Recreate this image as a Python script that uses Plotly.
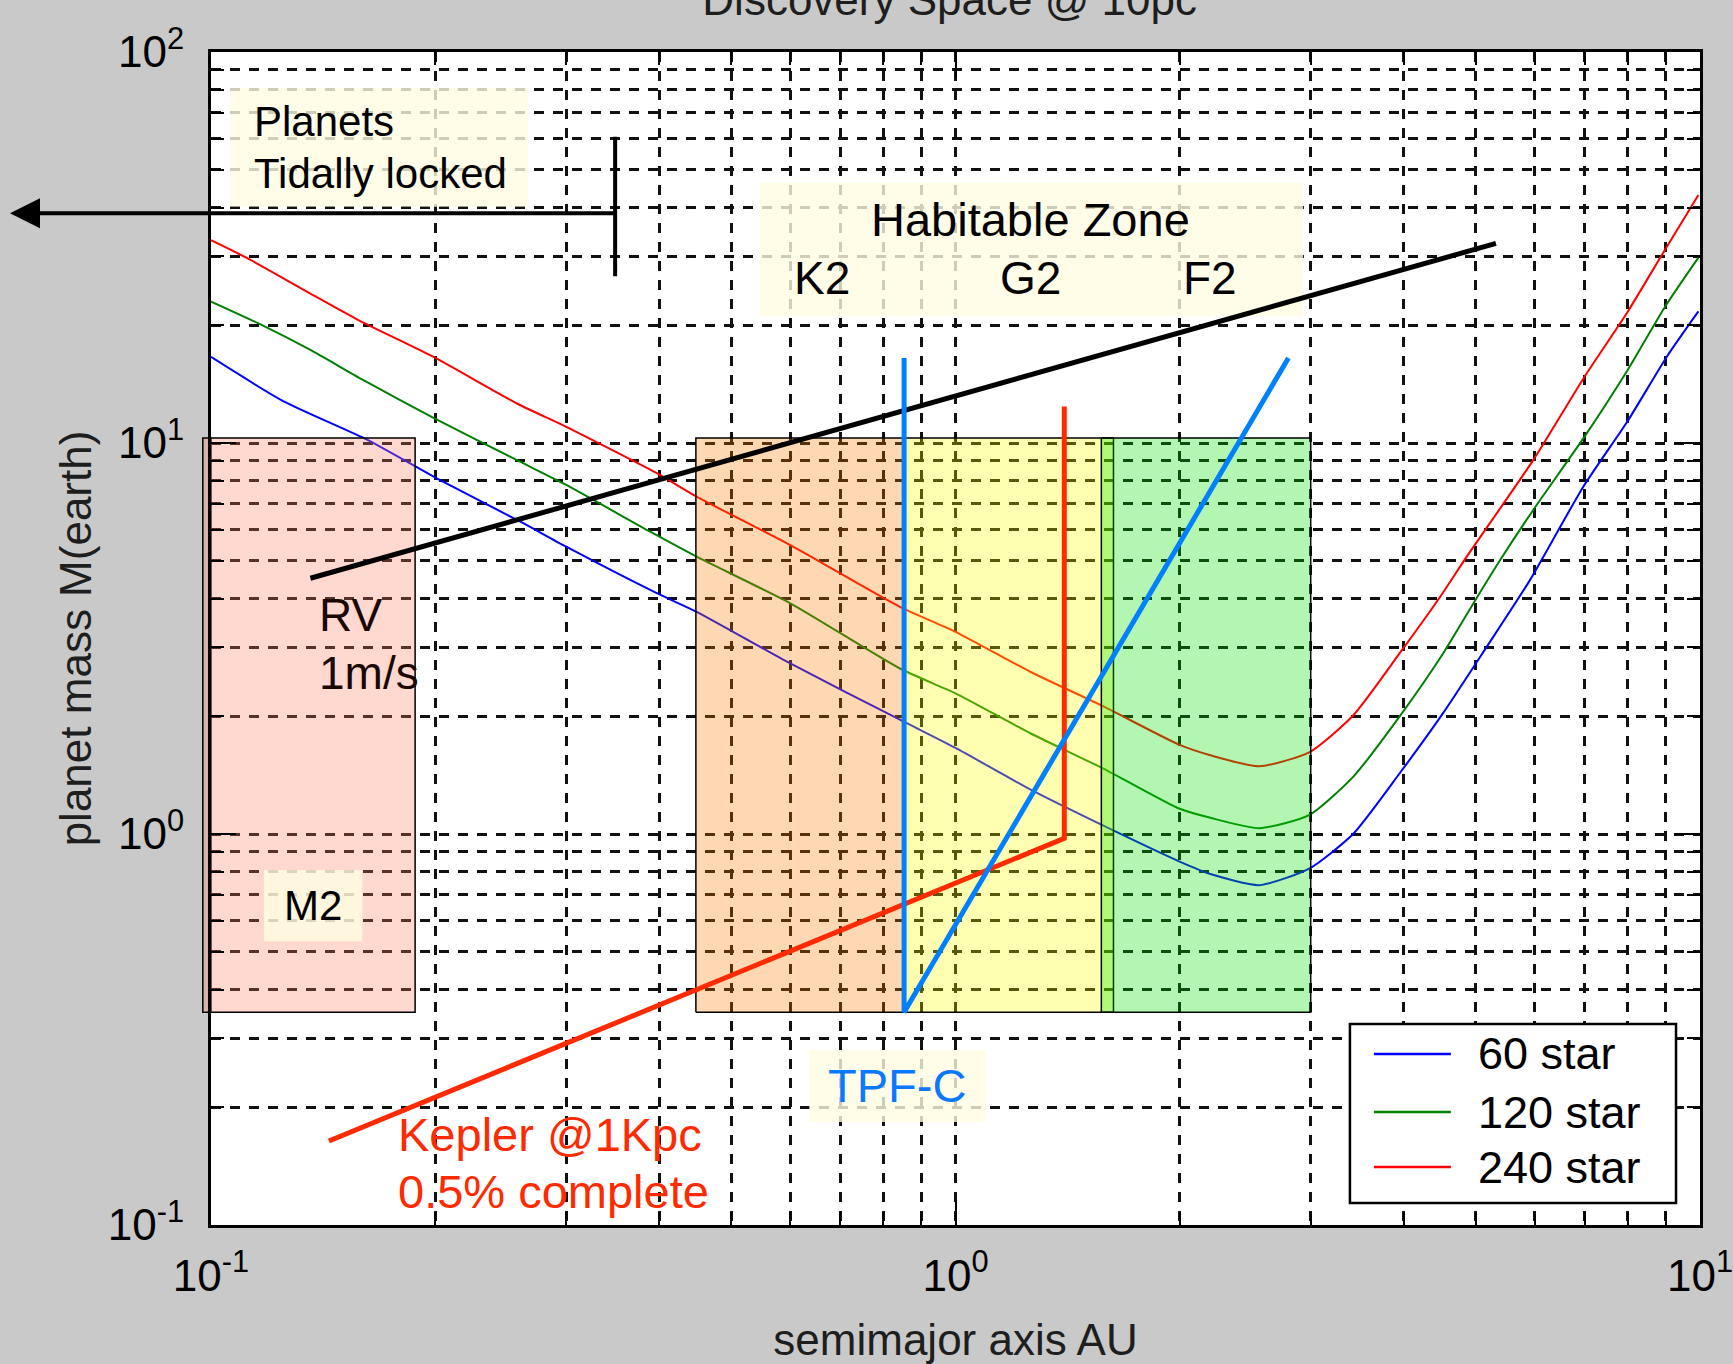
import numpy as np
import plotly.graph_objects as go

# ---------------- data ----------------
# detection-limit curves: semimajor axis (AU) vs planet mass (M_earth)
a_60 = [0.100, 0.125, 0.162, 0.201, 0.260, 0.300, 0.397, 0.449, 0.600, 0.842, 1.00, 1.26, 1.58,
        2.00, 2.20, 2.56, 2.99, 3.42, 3.95, 4.52, 5.17, 5.91, 6.97, 8.00, 9.02, 9.95]
m_60 = [16.6, 12.8, 10.2, 8.12, 6.3, 5.43, 4.13, 3.7, 2.73, 1.96, 1.66, 1.30, 1.05,
        0.85, 0.79, 0.74, 0.817, 1.0, 1.43, 2.04, 3.01, 4.46, 7.73, 11.4, 16.6, 21.7]

a_120 = [0.100, 0.116, 0.136, 0.160, 0.199, 0.260, 0.300, 0.389, 0.449, 0.600, 0.842, 1.00, 1.26,
         1.58, 2.00, 2.20, 2.56, 2.99, 3.42, 3.95, 4.52, 5.01, 5.39, 5.97, 7.00, 8.00, 9.00, 9.95]
m_120 = [23.0, 20.2, 17.3, 14.5, 11.6, 8.96, 7.81, 5.93, 5.12, 3.89, 2.65, 2.29, 1.81,
         1.47, 1.16, 1.10, 1.035, 1.12, 1.40, 2.0, 2.90, 4.01, 5.02, 6.74, 10.4, 15.4, 22.5, 29.8]

a_240 = [0.100, 0.113, 0.136, 0.158, 0.199, 0.258, 0.300, 0.397, 0.449, 0.600, 0.842, 1.00, 1.26,
         1.58, 2.00, 2.20, 2.56, 2.99, 3.42, 3.95, 4.48, 4.86, 5.97, 7.00, 8.00, 9.00, 9.95]
m_240 = [33.0, 29.4, 24.1, 20.6, 16.6, 12.6, 11.0, 8.37, 7.29, 5.48, 3.81, 3.29, 2.60,
         2.12, 1.69, 1.59, 1.49, 1.62, 2.01, 2.9, 4.05, 5.12, 9.04, 14.8, 21.7, 31.5, 43.1]

series_names = ["60 star", "120 star", "240 star"]

# stellar-type zones (semimajor axis ranges) and mass range
zone_names = ["M2", "K2", "G2", "F2"]
zone_a_min = [0.0975, 0.448, 0.855, 1.57]
zone_a_max = [0.188, 0.855, 1.63, 3.00]
zone_m_min = 0.35
zone_m_max = 10.3

# RV 1 m/s sensitivity line
rv_a = [0.136, 5.32]
rv_m = [4.51, 32.4]

# Kepler @1Kpc line
kepler_a = [0.144, 1.40, 1.40]
kepler_m = [0.164, 0.975, 12.4]

# TPF-C wedge
tpfc_a = [0.853, 0.853, 2.80]
tpfc_m = [16.5, 0.35, 16.5]

# tidal-locking limit
tidal_a = 0.349
tidal_m = [26.7, 60.7]
tidal_arrow_m = 38.7
tidal_arrow_tip_a = 0.0537

# label background boxes: (a_min, a_max, m_min, m_max)
label_boxes = {
    "planets": (0.106, 0.267, 40.2, 80.9),
    "hz": (0.546, 2.93, 21.1, 46.2),
    "m2": (0.1178, 0.1596, 0.532, 0.809),
    "tpfc": (0.636, 1.099, 0.1834, 0.280),
}

x_tick_vals = [0.1, 1, 10]
x_tick_text = ["10<sup>-1</sup>", "10<sup>0</sup>", "10<sup>1</sup>"]
y_tick_vals = [0.1, 1, 10, 100]
y_tick_text = ["10<sup>-1</sup>", "10<sup>0</sup>", "10<sup>1</sup>", "10<sup>2</sup>"]
x_minor = [v * d for d in (0.1, 1) for v in range(2, 10)]
y_minor = [v * d for d in (0.1, 1, 10) for v in range(2, 10)]

# ---------------- styling ----------------
FONT = "Liberation Sans, Arial, sans-serif"
CURVE_COLORS = ["#0000ff", "#008000", "#ff0000"]
ZONE_FILLS = ["rgba(255,128,98,0.3)", "rgba(250,125,0,0.3)",
              "rgba(255,255,0,0.3)", "rgba(0,225,0,0.3)"]
LABEL_BG = "rgba(255,252,225,0.8)"
XR = [-1, 1]
YR = [-1, 2]


def lg(v):
    return float(np.log10(v))


def rect(a0, a1, m0, m1):
    return [a0, a1, a1, a0, a0], [m0, m0, m1, m1, m0]


fig = go.Figure()

# curves
for a, m, name, col in zip([a_60, a_120, a_240], [m_60, m_120, m_240], series_names, CURVE_COLORS):
    fig.add_trace(go.Scatter(x=a, y=m, mode="lines", name=name,
                             line=dict(color=col, width=2, shape="spline", smoothing=0.6),
                             showlegend=False, hoverinfo="skip"))

# zone boxes
for i, nm in enumerate(zone_names):
    xs, ys = rect(zone_a_min[i], zone_a_max[i], zone_m_min, zone_m_max)
    fig.add_trace(go.Scatter(x=xs, y=ys, mode="lines", fill="toself", fillcolor=ZONE_FILLS[i],
                             line=dict(color="black", width=1.5), name=nm,
                             showlegend=False, hoverinfo="skip"))

# label backgrounds
for key, (a0, a1, m0, m1) in label_boxes.items():
    xs, ys = rect(a0, a1, m0, m1)
    fig.add_trace(go.Scatter(x=xs, y=ys, mode="lines", fill="toself", fillcolor=LABEL_BG,
                             line=dict(width=0, color="rgba(0,0,0,0)"), name=key,
                             showlegend=False, hoverinfo="skip"))

# thick instrument lines
fig.add_trace(go.Scatter(x=rv_a, y=rv_m, mode="lines", line=dict(color="black", width=5),
                         showlegend=False, hoverinfo="skip", name="RV 1m/s"))
fig.add_trace(go.Scatter(x=kepler_a, y=kepler_m, mode="lines", line=dict(color="#ff2a00", width=5),
                         showlegend=False, hoverinfo="skip", name="Kepler"))
fig.add_trace(go.Scatter(x=tpfc_a, y=tpfc_m, mode="lines", line=dict(color="#0080ff", width=5),
                         showlegend=False, hoverinfo="skip", name="TPF-C"))
fig.add_trace(go.Scatter(x=[tidal_a, tidal_a], y=tidal_m, mode="lines",
                         line=dict(color="black", width=4),
                         showlegend=False, hoverinfo="skip", name="tidal limit"))

# part of M2 box outside the axes (left strip over grey background)
px0 = (lg(zone_a_min[0]) - XR[0]) / (XR[1] - XR[0])
shapes = [dict(type="rect", xref="paper", yref="y", x0=px0, x1=0,
               y0=zone_m_min, y1=zone_m_max, fillcolor=ZONE_FILLS[0],
               line=dict(color="black", width=1.5), layer="below")]

# custom legend (MATLAB style)
leg_x0, leg_x1, leg_y0, leg_y1 = 0.7649, 0.9839, 0.0188, 0.1714
shapes.append(dict(type="rect", xref="paper", yref="paper", x0=leg_x0, x1=leg_x1,
                   y0=leg_y0, y1=leg_y1, fillcolor="white",
                   line=dict(color="black", width=2.5), layer="above"))
leg_rows = [0.1458, 0.0963, 0.0494]
annotations = []
for yy, name, col in zip(leg_rows, series_names, CURVE_COLORS):
    shapes.append(dict(type="line", xref="paper", yref="paper", x0=0.7810, x1=0.8327,
                       y0=yy, y1=yy, line=dict(color=col, width=2.5), layer="above"))
    annotations.append(dict(xref="paper", yref="paper", x=0.8496, y=yy, text=name,
                            xanchor="left", yanchor="middle", showarrow=False,
                            font=dict(family=FONT, size=45, color="black")))


def txt(a, m, text, size, color="black", xanchor="center"):
    annotations.append(dict(xref="x", yref="y", x=lg(a), y=lg(m), text=text,
                            xanchor=xanchor, yanchor="middle", showarrow=False,
                            font=dict(family=FONT, size=size, color=color)))


txt(0.1135, 66.4, "Planets", 42, xanchor="left")
txt(0.1135, 48.9, "Tidally locked", 42, xanchor="left")
txt(1.26, 37.2, "Habitable Zone", 47)
txt(0.662, 26.4, "K2", 46)
txt(1.26, 26.4, "G2", 46)
txt(2.20, 26.4, "F2", 46)
txt(0.1388, 3.63, "RV", 46, color="#1a0800", xanchor="left")
txt(0.1388, 2.58, "1m/s", 46, color="#1a0800", xanchor="left")
txt(0.137, 0.655, "M2", 42)
txt(0.834, 0.228, "TPF-C", 47, color="#0a78ff")
txt(0.177, 0.170, "Kepler @1Kpc", 47, color="#ff2a00", xanchor="left")
txt(0.177, 0.1215, "0.5% complete", 47, color="#ff2a00", xanchor="left")

# tidal-lock arrow
annotations.append(dict(xref="x", yref="y", axref="x", ayref="y",
                        x=lg(tidal_arrow_tip_a), y=lg(tidal_arrow_m),
                        ax=lg(tidal_a), ay=lg(tidal_arrow_m), text="",
                        showarrow=True, arrowhead=2, arrowsize=1.5, arrowwidth=4,
                        arrowcolor="black", standoff=0, startstandoff=0))

grid_common = dict(showgrid=True, gridcolor="#111111", gridwidth=3, griddash="10px,9px")

axis_common = dict(
    type="log", showline=True, linecolor="black", linewidth=3, mirror="allticks",
    ticks="inside", ticklen=25, tickwidth=2, tickcolor="black", zeroline=False,
    tickmode="array", tickfont=dict(family=FONT, size=44, color="black"),
    ticklabeloverflow="allow", automargin=False,
    **grid_common,
)

fig.update_layout(
    width=1733, height=1364, autosize=False,
    margin=dict(l=211, r=33, t=52, b=139),
    paper_bgcolor="#c9c9c9", plot_bgcolor="white",
    font=dict(family=FONT, size=44, color="black"),
    title=dict(text="Discovery Space @ 10pc", x=0.548, xanchor="center",
               y=1, yref="container", yanchor="middle",
               font=dict(family=FONT, size=44, color="#1e1e1e")),
    xaxis=dict(range=XR, tickvals=x_tick_vals, ticktext=x_tick_text,
               ticklabelstandoff=10,
               title=dict(text="semimajor axis AU", standoff=26,
                          font=dict(family=FONT, size=44, color="#1e1e1e")),
               minor=dict(tickvals=x_minor, ticks="inside", ticklen=13, tickwidth=2,
                          tickcolor="black", **grid_common),
               **axis_common),
    yaxis=dict(range=YR, tickvals=y_tick_vals, ticktext=y_tick_text,
               ticklabelstandoff=15,
               title=dict(text="planet mass M(earth)", standoff=3,
                          font=dict(family=FONT, size=44, color="#1e1e1e")),
               minor=dict(tickvals=y_minor, ticks="inside", ticklen=13, tickwidth=2,
                          tickcolor="black", **grid_common),
               **axis_common),
    shapes=shapes,
    annotations=annotations,
    showlegend=False,
    hovermode=False,
)

fig.write_html("out.html")
